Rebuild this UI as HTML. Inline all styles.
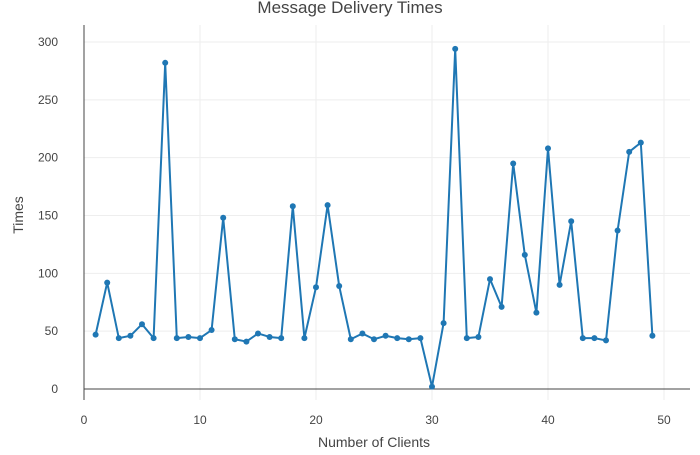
<!DOCTYPE html>
<html><head><meta charset="utf-8"><style>
body{margin:0;background:#fff;}
svg text{font-family:"Liberation Sans",sans-serif;fill:#444;}
</style></head><body>
<svg id="chart" width="700" height="450" xmlns="http://www.w3.org/2000/svg">
<text x="350" y="13" text-anchor="middle" font-size="17">Message Delivery Times</text>
<g id="grid"></g><g id="axes"></g><g id="series"></g>
<text x="374" y="447" text-anchor="middle" font-size="14">Number of Clients</text>
<text x="23" y="215" text-anchor="middle" font-size="14" transform="rotate(-90 23 215)">Times</text>
</svg>
<script>
const clients=[1,2,3,4,5,6,7,8,9,10,11,12,13,14,15,16,17,18,19,20,21,22,23,24,25,26,27,28,29,30,31,32,33,34,35,36,37,38,39,40,41,42,43,44,45,46,47,48,49];
const times=[47,92,44,46,56,44,282,44,45,44,51,148,43,41,48,45,44,158,44,88,159,89,43,48,43,46,44,43,44,2,57,294,44,45,95,71,195,116,66,208,90,145,44,44,42,137,205,213,46];
const xTicks=[0,10,20,30,40,50];
const yTicks=[0,50,100,150,200,250,300];
const NS='http://www.w3.org/2000/svg';
const X=v=>84+v*11.6;
const Y=v=>389-v*1.1567;
const L=84,R=690,T=25,B=400;
function mk(t,a,p){const e=document.createElementNS(NS,t);for(const k in a)e.setAttribute(k,a[k]);p.appendChild(e);return e;}
const grid=document.getElementById('grid'),axes=document.getElementById('axes'),ser=document.getElementById('series');
xTicks.forEach(v=>{
 if(v>0){const g=mk('line',{x1:X(v),x2:X(v),y1:T,y2:B,stroke:'#eee','stroke-width':1},grid);
 
 }
 const t=mk('text',{x:X(v),y:424,'text-anchor':'middle','font-size':12},axes);t.textContent=v;
 
 
});
yTicks.forEach(v=>{
 if(v>0){const g=mk('line',{x1:L,x2:R,y1:Y(v),y2:Y(v),stroke:'#eee','stroke-width':1},grid);
 
 }
 const t=mk('text',{x:L-26,y:Y(v)+4,'text-anchor':'end','font-size':12},axes);t.textContent=v;
 
 
});
const zl=mk('line',{x1:L,x2:R,y1:Y(0),y2:Y(0),stroke:'#444','stroke-width':1},axes);


const yl=mk('line',{x1:L,x2:L,y1:T,y2:B,stroke:'#444','stroke-width':1},axes);


const pts=clients.map((c,i)=>X(c)+','+Y(times[i])).join(' ');
const pl=mk('polyline',{points:pts,fill:'none',stroke:'#1f77b4','stroke-width':2,'stroke-linejoin':'round'},ser);


clients.forEach((c,i)=>{
 const p=mk('circle',{cx:X(c),cy:Y(times[i]),r:3,fill:'#1f77b4'},ser);
 
 
});
</script>
</body></html>
